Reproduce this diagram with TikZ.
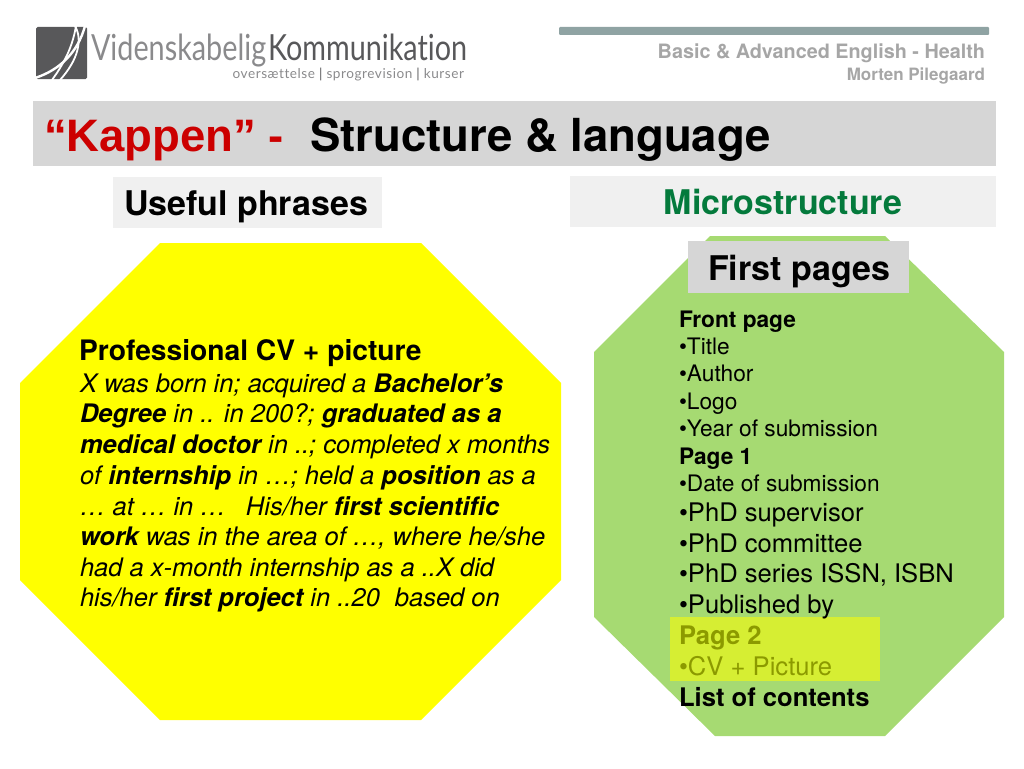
\documentclass[tikz,border=0pt]{standalone}
\usepackage{fontspec}
\setmainfont{TeX Gyre Heros}
\newfontfamily\logofont[Ligatures=NoCommon]{Lato}
\newfontfamily\tagfont[Ligatures=NoCommon,LetterSpace=4]{Lato}
\newfontfamily\quotefont{Liberation Sans}
\definecolor{titlegray}{HTML}{D6D6D6}
\definecolor{panelgray}{HTML}{F0F0F0}
\definecolor{yellowfill}{HTML}{FFFF00}
\definecolor{greenfill}{HTML}{A6DA72}
\definecolor{limefill}{HTML}{D6EE33}
\definecolor{limetext}{HTML}{8C9A00}
\definecolor{headgray}{HTML}{A6A6A6}
\definecolor{barcolor}{HTML}{8FA3A3}
\definecolor{microgreen}{HTML}{047A3C}
\definecolor{logodark}{HTML}{58585A}
\definecolor{logolight}{HTML}{8A8A8C}
\definecolor{titlered}{HTML}{CC0000}
\newcommand{\fs}[1]{\fontsize{#1}{#1}\selectfont}
\tikzset{
  txt/.style={anchor=base west,inner sep=0pt,outer sep=0pt},
  ctxt/.style={anchor=base,inner sep=0pt,outer sep=0pt},
  rtxt/.style={anchor=base east,inner sep=0pt,outer sep=0pt,text=headgray,font=\bfseries},
  cv/.style={txt,font=\fs{25.5}\itshape},
  list/.style={txt,font=\fs{22.7}},
  bigl/.style={txt,font=\fs{25.6}},
  strand/.style={white,line width=1.8pt},
}
\begin{document}
\begin{tikzpicture}[x=1pt,y=-1pt]
\useasboundingbox (0,0) rectangle (1024,768);
% logo
\fill[logodark,rounded corners=1.5pt] (36,27) rectangle (87,79);
\begin{scope}
\clip (36,27) rectangle (87,79);
\draw[strand,line width=2.4pt] (35,78) .. controls (60,70) and (78,52) .. (85,26);
\draw[strand] (52,80) .. controls (62,66) and (72,50) .. (76,26);
\draw[strand] (75,26) .. controls (83,40) and (78,60) .. (60,80);
\end{scope}
\node[txt,font=\logofont\fs{36},text=logolight] (logoa) at (91,60) {\scalebox{.80}[1]{Videnskabelig}};
\node[txt,font=\logofont\fs{36},text=logodark] (logob) at (268,60) {\scalebox{.80}[1]{Kommunikation}};
\node[rtxt,font=\tagfont\fs{13.6},text=logolight] (logoc) at (464,78) {oversættelse {\color{logodark}|} sprogrevision {\color{logodark}|} kurser};
% header
\fill[barcolor,rounded corners=1pt] (559,27) rectangle (989,35);
\node[rtxt,font=\bfseries\fs{19.8}] (heada) at (985,59) {Basic \& Advanced English - Health};
\node[rtxt,font=\bfseries\fs{17}] (headb) at (985,80) {Morten Pilegaard};
% title
\fill[titlegray] (33,101) rectangle (996,166);
\node[txt,font=\quotefont\bfseries\fs{45.5},text=titlered] (title) at (44,151) {“Kappen” -};
\node[txt,font=\bfseries\fs{45.5}] (title2) at (310,151) {Structure \& language};
% panels
\fill[panelgray] (113,177) rectangle (382,228);
\node[txt,font=\bfseries\fs{34}] (useful) at (124,215) {Useful phrases};
\fill[panelgray] (570,176) rectangle (996,227);
\node[ctxt,font=\bfseries\fs{34},text=microgreen] (micro) at (783,214) {Microstructure};
% octagons
\fill[yellowfill] (160,243) -- (421,243) -- (561,383) -- (561,580) -- (421,720) -- (160,720) -- (20,580) -- (20,383) -- cycle;
\fill[greenfill] (710,236) -- (885,236) -- (1004,352) -- (1004,617) -- (885,736) -- (715,736) -- (594,617) -- (594,352) -- cycle;
\fill[titlegray] (688,241) rectangle (909,293);
\node[ctxt,font=\bfseries\fs{34},text=black] (first) at (799,280) {First pages};
% left text
\node[txt,font=\bfseries\fs{28.2}] (cv0) at (79,360) {Professional CV + picture};
\node[cv] (cv1) at (80,392) {X was born in; acquired a \textbf{Bachelor’s}};
\node[cv] (cv2) at (80,422) {\textbf{Degree} in .. in 200?; \textbf{graduated as a}};
\node[cv] (cv3) at (80,453) {\textbf{medical doctor} in ..; completed x months};
\node[cv] (cv4) at (80,484) {of \textbf{internship} in …; held a \textbf{position} as a};
\node[cv] (cv5) at (80,515) {… at … in …\hspace{20pt}His/her \textbf{first scientific}};
\node[cv] (cv6) at (80,545) {\textbf{work} was in the area of …, where he/she};
\node[cv] (cv7) at (80,576) {had a x-month internship as a ..X did};
\node[cv] (cv8) at (80,606) {his/her \textbf{first project} in ..20\hspace{15pt}based on};
% right text
\fill[limefill] (670,617) rectangle (880,681);
\node[list,font=\bfseries\fs{22.7}] (r0) at (679,327) {Front page};
\node[list] (r1) at (679,354) {•Title};
\node[list] (r2) at (679,381) {•Author};
\node[list] (r3) at (679,409) {•Logo};
\node[list] (r4) at (679,436) {•Year of submission};
\node[list,font=\bfseries\fs{22.7}] (r5) at (679,464) {Page 1};
\node[list] (r6) at (679,491) {•Date of submission};
\node[bigl] (r7) at (679,521) {•PhD supervisor};
\node[bigl] (r8) at (679,552) {•PhD committee};
\node[bigl] (r9) at (679,582) {•PhD series ISSN, ISBN};
\node[bigl] (r10) at (679,613) {•Published by};
\node[bigl,font=\bfseries\fs{25.6},text=limetext] (r11) at (679,644) {Page 2};
\node[bigl,text=limetext] (r12) at (679,675) {•CV + Picture};
\node[bigl,font=\bfseries\fs{25.6}] (r13) at (679,706) {List of contents};
\end{tikzpicture}
\end{document}
